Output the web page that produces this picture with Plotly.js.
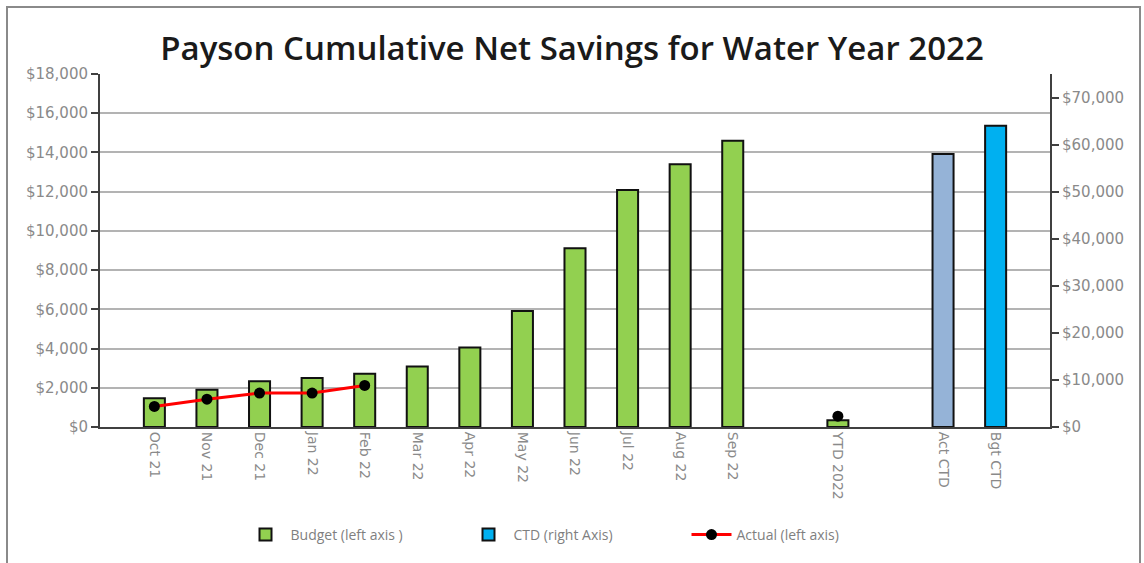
<!DOCTYPE html>
<html>
<head>
<meta charset="utf-8">
<script src="https://cdn.plot.ly/plotly-3.0.1.min.js"></script>
<style>
  html, body { margin: 0; padding: 0; background: #ffffff; }
  #wrap { position: relative; width: 1144px; height: 563px; overflow: hidden; }
  #chart { position: absolute; left: 0; top: 0; width: 1144px; height: 563px; }
  #frame { position: absolute; left: 6px; top: 6px; width: 1131px; height: 600px;
           border: 2px solid #8a8a8a; pointer-events: none; }
</style>
</head>
<body>
<div id="wrap">
  <div id="chart"></div>
  <div id="frame"></div>
</div>
<script>
// Categories (blank slots keep the gaps seen in the reference)
const categories = ['Oct 21','Nov 21','Dec 21','Jan 22','Feb 22','Mar 22','Apr 22','May 22',
                    'Jun 22','Jul 22','Aug 22','Sep 22',' ','YTD 2022','  ','Act CTD','Bgt CTD'];

// Budget (left axis)
const budgetValues = [1470, 1900, 2330, 2500, 2720, 3080, 4050, 5920,
                      9120, 12090, 13400, 14600, null, 350, null, null, null];

// Actual (left axis)
const actualValues = [1050, 1420, 1730, 1730, 2120, null, null, null,
                      null, null, null, null, null, 550, null, null, null];

// CTD (right axis) - listed Bgt first so the legend swatch takes its colour
const ctdCategories = ['Bgt CTD', 'Act CTD'];
const ctdValues = [64000, 58000];
const ctdColors = ['#00B0F0', '#95B3D7'];

const titleText = 'Payson Cumulative Net Savings for Water Year 2022';

const tickFont = { family: 'DejaVu Sans', size: 15, color: '#8a8a8a' };

const traces = [
  {
    type: 'bar', name: 'Budget (left axis )',
    x: categories, y: budgetValues, yaxis: 'y',
    marker: { color: '#92D050', line: { color: '#111111', width: 2 } },
    offsetgroup: 'a'
  },
  {
    type: 'bar', name: 'CTD (right Axis)',
    x: ctdCategories, y: ctdValues, yaxis: 'y2',
    marker: { color: ctdColors, line: { color: '#111111', width: 2 } },
    offsetgroup: 'a'
  },
  {
    type: 'scatter', mode: 'lines+markers', name: 'Actual (left axis)',
    x: categories, y: actualValues, yaxis: 'y',
    line: { color: '#FF0000', width: 3 },
    marker: { color: '#000000', size: 11 },
    connectgaps: false
  }
];

const layout = {
  width: 1144, height: 563,
  paper_bgcolor: '#ffffff', plot_bgcolor: '#ffffff',
  margin: { l: 100, r: 94, t: 74, b: 136 },
  barmode: 'group', bargap: 0.6,
  showlegend: true,
  title: {
    text: titleText,
    x: 0.5, xref: 'container', xanchor: 'center',
    y: 1 - 48 / 563, yref: 'container', yanchor: 'middle',
    font: { family: 'Open Sans', size: 33, color: '#1a1a1a', weight: 600 }
  },
  xaxis: {
    type: 'category',
    categoryorder: 'array', categoryarray: categories,
    tickangle: 90,
    tickfont: { family: 'DejaVu Sans', size: 14, color: '#8a8a8a' },
    showline: true, linecolor: '#404040', linewidth: 2,
    ticks: '', showgrid: false, zeroline: false,
    fixedrange: true
  },
  yaxis: {
    range: [0, 18000], dtick: 2000, tick0: 0,
    tickformat: '$,.0f',
    tickfont: tickFont,
    showline: true, linecolor: '#404040', linewidth: 2,
    ticks: 'outside', ticklen: 7, tickwidth: 2, tickcolor: '#404040',
    showgrid: true, gridcolor: '#b3b3b3', gridwidth: 2,
    zeroline: false
  },
  yaxis2: {
    overlaying: 'y', side: 'right',
    range: [0, 75000], dtick: 10000, tick0: 0,
    tickformat: '$,.0f',
    tickfont: tickFont,
    showline: true, linecolor: '#404040', linewidth: 2,
    ticks: 'outside', ticklen: 7, tickwidth: 2, tickcolor: '#404040',
    showgrid: false, zeroline: false
  },
  legend: {
    orientation: 'h',
    x: 0.5, xanchor: 'center',
    y: -108 / 353, yanchor: 'middle',
    font: { family: 'Open Sans', size: 14, color: '#7f7f7f' },
    itemwidth: 40,
    entrywidth: 168, entrywidthmode: 'pixels',
    traceorder: 'normal'
  }
};

Plotly.newPlot('chart', traces, layout, { displayModeBar: false, staticPlot: true });
</script>
</body>
</html>
